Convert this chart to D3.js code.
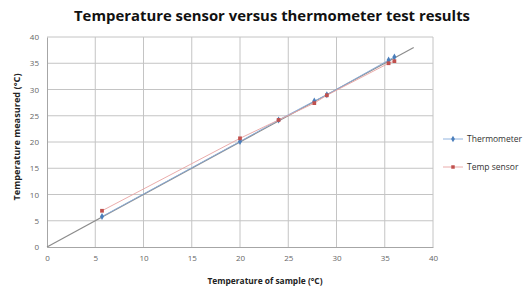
<!DOCTYPE html>
<html>
<head>
<meta charset="utf-8">
<title>Temperature sensor versus thermometer</title>
<script src="https://d3js.org/d3.v7.min.js"></script>
<style>
  body { margin: 0; background: #fff; }
  text { font-family: "Open Sans", "Liberation Sans", sans-serif; }
</style>
</head>
<body>
<div id="chart"></div>
<script>
// values
const sampleTemps = [5.7, 20, 24, 27.7, 29, 35.4, 36];
const thermometer = [5.8, 20.1, 24.2, 27.8, 29, 35.6, 36.2];
const tempSensor  = [6.9, 20.7, 24.2, 27.4, 28.9, 35.0, 35.4];
const refLine = [0, 38];
const xTicks = [0, 5, 10, 15, 20, 25, 30, 35, 40];
const yTicks = [0, 5, 10, 15, 20, 25, 30, 35, 40];
const seriesNames = ["Thermometer", "Temp sensor"];

const W = 523, H = 290;
const margin = {top: 37, right: 90, bottom: 43, left: 47};
const w = W - margin.left - margin.right;   // 386
const h = H - margin.top - margin.bottom;   // 210

const svg = d3.select("#chart").append("svg")
    .attr("width", W).attr("height", H);

const g = svg.append("g")
    .attr("transform", "translate(" + margin.left + "," + margin.top + ")");

const x = d3.scaleLinear().domain([0, 40]).range([0, w]);
const y = d3.scaleLinear().domain([0, 40]).range([h, 0]);

// gridlines
g.append("g").selectAll("line").data(xTicks.slice(1)).join("line")
    .attr("x1", d => x(d)).attr("x2", d => x(d))
    .attr("y1", 0).attr("y2", h)
    .attr("stroke", "#c4c4c4").attr("stroke-width", 1);
g.append("g").selectAll("line").data(yTicks.slice(1)).join("line")
    .attr("x1", 0).attr("x2", w)
    .attr("y1", d => y(d)).attr("y2", d => y(d))
    .attr("stroke", "#c4c4c4").attr("stroke-width", 1);

// axes
const xAxis = g.append("g")
    .attr("transform", "translate(0," + h + ")")
    .call(d3.axisBottom(x).tickValues(xTicks).tickSize(0).tickPadding(8));
const yAxis = g.append("g")
    .call(d3.axisLeft(y).tickValues(yTicks).tickSize(0).tickPadding(8));
[xAxis, yAxis].forEach(a => {
  a.select(".domain").attr("stroke", "#a6a6a6");
  a.selectAll("text").attr("fill", "#666").attr("font-size", 8);
});

// reference line y = x
const line = d3.line().x(d => x(d[0])).y(d => y(d[1]));
g.append("path")
    .datum(refLine.map(v => [v, v]))
    .attr("d", line)
    .attr("fill", "none").attr("stroke", "#8c8c8c").attr("stroke-width", 1.2);

const series = [
  {name: seriesNames[0], vals: thermometer, color: "#86acdb", mark: "#4a7ebb", sym: d3.symbolDiamond},
  {name: seriesNames[1], vals: tempSensor, color: "#e8a3a1", mark: "#c0504d", sym: d3.symbolSquare}
];

series.forEach(s => {
  const pts = sampleTemps.map((t, i) => [t, s.vals[i]]);
  g.append("path").datum(pts).attr("d", line)
      .attr("fill", "none").attr("stroke", s.color).attr("stroke-width", 0.9);
  g.append("g").selectAll("path").data(pts).join("path")
      .attr("transform", d => "translate(" + x(d[0]) + "," + y(d[1]) + ")")
      .attr("d", d3.symbol().type(s.sym).size(14))
      .attr("fill", s.mark);
});

// title
svg.append("text")
    .attr("x", 272).attr("y", 21)
    .attr("text-anchor", "middle")
    .attr("font-size", 15).attr("font-weight", "bold")
    .attr("fill", "#111")
    .attr("textLength", 396).attr("lengthAdjust", "spacingAndGlyphs")
    .text("Temperature sensor versus thermometer test results");

// axis titles
svg.append("text")
    .attr("x", 265).attr("y", 284)
    .attr("text-anchor", "middle")
    .attr("font-size", 8).attr("font-weight", "bold").attr("fill", "#222")
    .attr("textLength", 115).attr("lengthAdjust", "spacingAndGlyphs")
    .text("Temperature of sample (°C)");
svg.append("text")
    .attr("transform", "translate(20,137) rotate(-90)")
    .attr("text-anchor", "middle")
    .attr("font-size", 8).attr("font-weight", "bold").attr("fill", "#222")
    .attr("textLength", 127).attr("lengthAdjust", "spacingAndGlyphs")
    .text("Temperature measured (°C)");

// legend
const leg = svg.append("g");
series.forEach((s, i) => {
  const ly = 139 + i * 28;
  leg.append("line").attr("x1", 443).attr("x2", 463).attr("y1", ly).attr("y2", ly)
      .attr("stroke", s.color).attr("stroke-width", 0.9);
  leg.append("path").attr("transform", "translate(453," + ly + ")")
      .attr("d", d3.symbol().type(s.sym).size(12)).attr("fill", s.mark);
  leg.append("text").attr("x", 467).attr("y", ly + 3)
      .attr("font-size", 8.5).attr("fill", "#333")
      .text(s.name);
});
</script>
</body>
</html>
